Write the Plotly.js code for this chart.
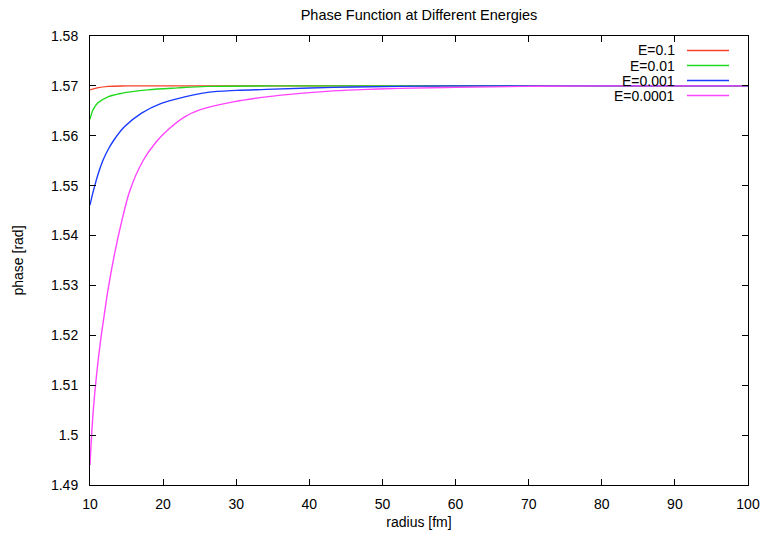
<!DOCTYPE html>
<html>
<head>
<meta charset="utf-8">
<script src="https://cdn.plot.ly/plotly-3.0.1.min.js"></script>
<style>html,body{margin:0;padding:0;background:#fff;}#chart{width:765px;height:535px;}</style>
</head>
<body>
<div id="chart"></div>
<script>
// ---- data ----
const seriesNames = ["E=0.1", "E=0.01", "E=0.001", "E=0.0001"];
const seriesColors = ["#f5432a", "#21d91f", "#1a3cff", "#ff44ff"];

const rE01 = [10, 11, 12.5, 15, 20, 30, 50, 100];
const phE01 = [1.5692, 1.5696, 1.5699, 1.5700, 1.5700, 1.5700, 1.5700, 1.5700];

const rE001 = [10, 10.41, 11.09, 12.46, 14.28, 17.9, 22, 26.1, 35, 50, 100];
const phE001 = [1.5633, 1.5652, 1.5666, 1.5678, 1.5685, 1.5692, 1.5696, 1.5699, 1.5700, 1.5700, 1.5700];

const rE0001 = [10, 10.4, 10.9, 11.3, 11.78, 12.5, 13.3, 14.7, 17.0, 19.75, 22.95, 26.1, 30, 34.1, 43.3, 52.4, 60, 100];
const phE0001 = [1.5461, 1.5486, 1.5513, 1.5532, 1.5551, 1.5573, 1.5592, 1.5618, 1.5645, 1.5665, 1.5678, 1.5687, 1.5691, 1.5693, 1.5697, 1.5699, 1.5700, 1.5700];

const rE00001 = [10, 10.14, 10.45, 10.92, 11.46, 11.78, 12.46, 13.38, 14.28, 15.47, 17.25, 19.07, 20.9, 22.95, 25, 29.6, 34.1, 38.7, 43.3, 47.9, 52.4, 60.1, 69.2, 80, 100];
const phE00001 = [1.4940, 1.4980, 1.5050, 1.5124, 1.5191, 1.5224, 1.5291, 1.5365, 1.5425, 1.5491, 1.5550, 1.5588, 1.5615, 1.5638, 1.5652, 1.5668, 1.5678, 1.5685, 1.5690, 1.5693, 1.5695, 1.5697, 1.5699, 1.5700, 1.5700];

const xTicks = [10, 20, 30, 40, 50, 60, 70, 80, 90, 100];
const yTicks = [1.49, 1.5, 1.51, 1.52, 1.53, 1.54, 1.55, 1.56, 1.57, 1.58];
const yTickText = ["1.49", "1.5", "1.51", "1.52", "1.53", "1.54", "1.55", "1.56", "1.57", "1.58"];

const titleText = "Phase Function at Different Energies";
const xTitle = "radius [fm]";
const yTitle = "phase [rad]";

// ---- build figure ----
const xs = [rE01, rE001, rE0001, rE00001];
const ys = [phE01, phE001, phE0001, phE00001];
const FONT = "'Liberation Sans Narrow', 'Arial Narrow', 'Liberation Sans', Arial, sans-serif";

const traces = xs.map((x, i) => ({
  x: x, y: ys[i], type: "scatter", mode: "lines", name: seriesNames[i],
  line: {color: seriesColors[i], width: 1.4, shape: "spline", smoothing: 1},
  showlegend: false, hoverinfo: "skip"
}));

// custom legend (text right-aligned, sample line on right), gnuplot style
const W = 765, H = 535, L = 90, R = 17, T = 36, B = 50;
const pw = W - L - R, ph = H - T - B;
const rowY = [50.5, 65.5, 80.5, 95.5];
const annotations = [], shapes = [];
seriesNames.forEach((nm, i) => {
  const py = (H - B - rowY[i]) / ph;
  annotations.push({
    xref: "paper", yref: "paper", x: (677 - L) / pw, y: py,
    xanchor: "right", yanchor: "middle", text: nm, showarrow: false,
    font: {family: FONT, size: 14, color: "#000"}
  });
  shapes.push({
    type: "line", xref: "paper", yref: "paper",
    x0: (687 - L) / pw, x1: (729 - L) / pw, y0: py, y1: py,
    line: {color: seriesColors[i], width: 1.4}
  });
});

const axisCommon = {
  showline: true, linecolor: "#000", linewidth: 1, mirror: "ticks",
  ticks: "inside", ticklen: 6, tickwidth: 1, tickcolor: "#000",
  showgrid: false, zeroline: false,
  tickfont: {family: FONT, size: 14, color: "#000"}
};

const layout = {
  width: W, height: H,
  margin: {l: L, r: R, t: T, b: B, pad: 0},
  paper_bgcolor: "#fff", plot_bgcolor: "#fff",
  font: {family: FONT, size: 14, color: "#000"},
  title: {text: titleText, x: 0.5, xref: "paper", xanchor: "center", y: 1 - 15 / H, yanchor: "middle",
          font: {family: FONT, size: 14.5, color: "#000"}},
  xaxis: Object.assign({}, axisCommon, {
    range: [10, 100], tickmode: "array", tickvals: xTicks,
    ticklabelstandoff: 6,
    title: {text: xTitle, standoff: 6, font: {family: FONT, size: 14, color: "#000"}}
  }),
  yaxis: Object.assign({}, axisCommon, {
    range: [1.49, 1.58], tickmode: "array", tickvals: yTicks, ticktext: yTickText,
    ticklabelstandoff: 8,
    title: {text: yTitle, standoff: 24, font: {family: FONT, size: 14, color: "#000"}}
  }),
  annotations: annotations, shapes: shapes
};

Plotly.newPlot("chart", traces, layout, {staticPlot: true, displayModeBar: false});
</script>
</body>
</html>
